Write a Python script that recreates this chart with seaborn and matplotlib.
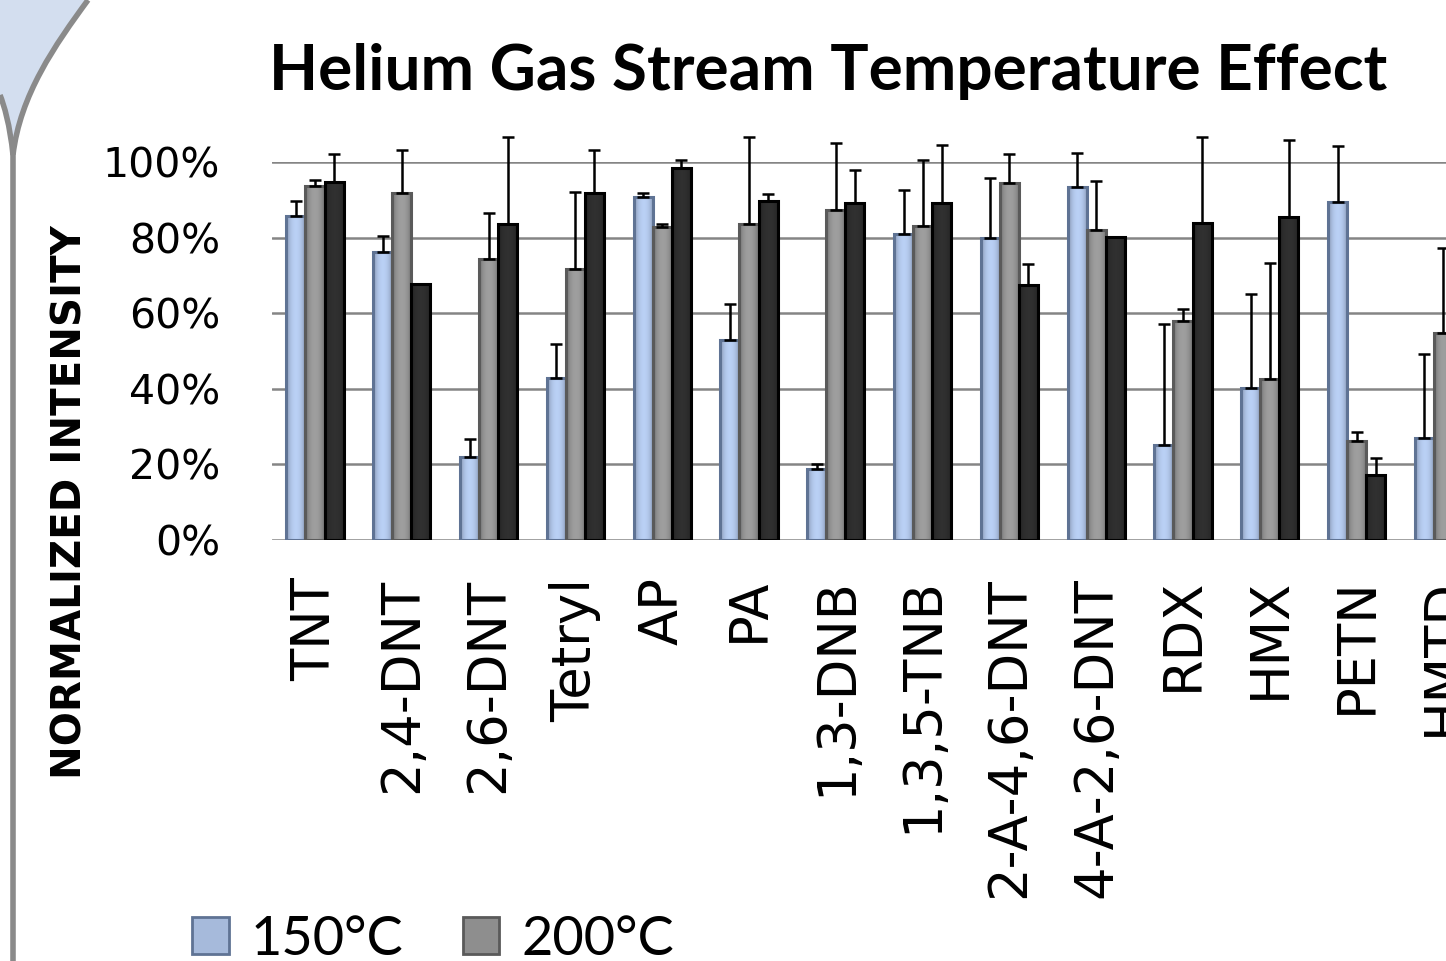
import matplotlib
matplotlib.use("Agg")
import matplotlib.pyplot as plt
import matplotlib.ticker as mticker
import matplotlib.colors as mcolors
from matplotlib.path import Path
from matplotlib.patches import PathPatch
import numpy as np
import pandas as pd
import seaborn as sns

# values (percent)
compounds = ['TNT', '2,4-DNT', '2,6-DNT', 'Tetryl', 'AP', 'PA', '1,3-DNB',
             '1,3,5-TNB', '2-A-4,6-DNT', '4-A-2,6-DNT', 'RDX', 'HMX', 'PETN', 'HMTD']
temps = ['150°C', '200°C', '250°C']

val_150 = [85.8, 76.2, 21.9, 43.0, 90.9, 53.0, 18.7, 81.0, 79.9, 93.4, 25.2, 40.2, 89.4, 26.9]
err_150 = [4.0, 4.4, 4.8, 9.0, 0.9, 9.6, 1.3, 11.6, 16.0, 9.1, 32.1, 24.9, 14.9, 22.4]
val_200 = [93.8, 91.8, 74.4, 71.7, 83.0, 83.6, 87.4, 83.1, 94.4, 82.1, 57.9, 42.5, 26.3, 54.7]
err_200 = [1.5, 11.5, 12.1, 20.5, 0.6, 23.2, 17.7, 17.5, 7.8, 12.9, 3.2, 30.9, 2.3, 22.5]
val_250 = [94.7, 67.8, 83.6, 92.0, 98.4, 89.8, 89.1, 89.1, 67.6, 80.1, 84.0, 85.4, 17.1, np.nan]
err_250 = [7.5, 0.0, 23.0, 11.3, 2.3, 1.7, 8.9, 15.4, 5.5, 0.0, 22.6, 20.5, 4.5, np.nan]

col_x = 'Compound'
col_y = 'NORMALIZED INTENSITY'
col_t = 'Temperature'

frames = []
for t, v in zip(temps, [val_150, val_200, val_250]):
    frames.append(pd.DataFrame({col_x: compounds, col_y: np.array(v) / 100, col_t: t}))
data = pd.concat(frames, ignore_index=True)
errs = [np.array(e) / 100 for e in (err_150, err_200, err_250)]

sns.set_theme(style='white')
plt.rcParams['font.family'] = ['DejaVu Sans']
plt.rcParams['text.color'] = 'black'
plt.rcParams['xtick.color'] = 'black'
plt.rcParams['ytick.color'] = 'black'

fig = plt.figure(figsize=(14.46, 9.61), dpi=100)
W, H = 1446, 961
# axes deliberately runs past the right edge (the source image is cropped)
ax = fig.add_axes([271.6 / W, (H - 540) / H, 14 * 86.8 / W, 377.7 / H])

face = ['#a6badb', '#8e8e8e', '#2b2b2b']
edge = ['#5f7394', '#5a5a5a', '#000000']
sns.barplot(data=data, x=col_x, y=col_y, hue=col_t, hue_order=temps,
            palette=face, width=0.66, errorbar=None, ax=ax,
            saturation=1, legend=True)

# bevel-like shading across each bar
shade = 0.72 + 0.4 * np.sin(np.linspace(0, np.pi, 40)) ** 0.6
for cont, fc, ec, e in zip(ax.containers, face, edge, errs):
    rgb = np.array(mcolors.to_rgb(fc))
    grad = np.clip(shade[None, :, None] * rgb[None, None, :], 0, 1)
    xs, ys = [], []
    for bar in cont:
        x0, w, h = bar.get_x(), bar.get_width(), bar.get_height()
        if not np.isnan(h):
            im = ax.imshow(grad, extent=[x0, x0 + w, 0, h], aspect='auto',
                           interpolation='bilinear', zorder=bar.get_zorder() - 0.01)
            im.set_clip_path(bar)
        bar.set_facecolor('none')
        bar.set_edgecolor(ec)
        bar.set_linewidth(2.2)
        xs.append(x0 + w / 2)
        ys.append(h)
    xs, ys = np.array(xs), np.array(ys)
    ee = np.nan_to_num(e[np.round(xs).astype(int)])
    ok = ~np.isnan(ys) & (ee > 0)
    ax.errorbar(xs[ok], ys[ok], yerr=[np.zeros(ok.sum()), ee[ok]], fmt='none',
                ecolor='black', elinewidth=1.8, capsize=4.5, capthick=1.8,
                clip_on=False, zorder=5)

ax.set_ylim(0, 1)
ax.set_xlim(-0.5, 13.5)
ax.yaxis.set_major_locator(mticker.MultipleLocator(0.2))
ax.yaxis.set_major_formatter(mticker.PercentFormatter(1.0, decimals=0))
ax.grid(axis='y', color='#858585', linewidth=1.8)
ax.set_axisbelow(True)
for s in ax.spines.values():
    s.set_visible(False)
ax.tick_params(axis='y', length=0, pad=37, labelsize=29.5)
ax.tick_params(axis='x', length=0, pad=27, labelsize=38, labelrotation=90)
ax.set_xlabel('')
ax.set_ylabel('')

fig.text(71 / W, 1 - 502 / H, col_y, rotation=90, ha='center', va='center',
         fontsize=29, fontweight='bold',
         family=['Liberation Sans Narrow', 'DejaVu Sans'])
fig.text(828 / W, 1 - 71 / H, 'Helium Gas Stream Temperature Effect',
         ha='center', va='center', fontsize=46, fontweight='bold', family=['Lato', 'DejaVu Sans'])

handles, labels = ax.get_legend_handles_labels()
ax.get_legend().remove()
for h, fc, ec in zip(handles, face, edge):
    h.set_facecolor(fc)
    h.set_edgecolor(ec)
    h.set_linewidth(2)
order = [0, 2, 1]
fig.legend([handles[i] for i in order], [labels[i] for i in order], ncol=2,
           loc='upper left', bbox_to_anchor=(143 / W, 1 - 866 / H), frameon=False,
           prop={'family': ['Lato', 'DejaVu Sans'], 'size': 39},
           handlelength=0.68, handleheight=0.68, handletextpad=0.4, columnspacing=1.1,
           labelspacing=0.4)

# slide decoration on the left
ln = '#8a8a8a'
fill = Path([(88, 0), (55, 45), (20, 95), (13, 155), (10, 125), (4, 105), (0, 95), (0, 0), (88, 0)],
            [Path.MOVETO, Path.CURVE4, Path.CURVE4, Path.CURVE4, Path.CURVE4, Path.CURVE4,
             Path.CURVE4, Path.LINETO, Path.CLOSEPOLY])
verts = [(x / W, 1 - y / H) for x, y in fill.vertices]
fig.add_artist(PathPatch(Path(verts, fill.codes), transform=fig.transFigure,
                         facecolor='#d3deef', edgecolor='none'))
curve = Path([(x / W, 1 - y / H) for x, y in [(88, 0), (55, 45), (20, 95), (13, 155), (13, 961)]],
             [Path.MOVETO, Path.CURVE4, Path.CURVE4, Path.CURVE4, Path.LINETO])
fig.add_artist(PathPatch(curve, transform=fig.transFigure, facecolor='none',
                         edgecolor=ln, linewidth=4))
curve2 = Path([(x / W, 1 - y / H) for x, y in [(0, 95), (4, 105), (10, 125), (13, 155)]],
              [Path.MOVETO, Path.CURVE4, Path.CURVE4, Path.CURVE4])
fig.add_artist(PathPatch(curve2, transform=fig.transFigure, facecolor='none',
                         edgecolor=ln, linewidth=4))

fig.savefig('out.png', dpi=100)
